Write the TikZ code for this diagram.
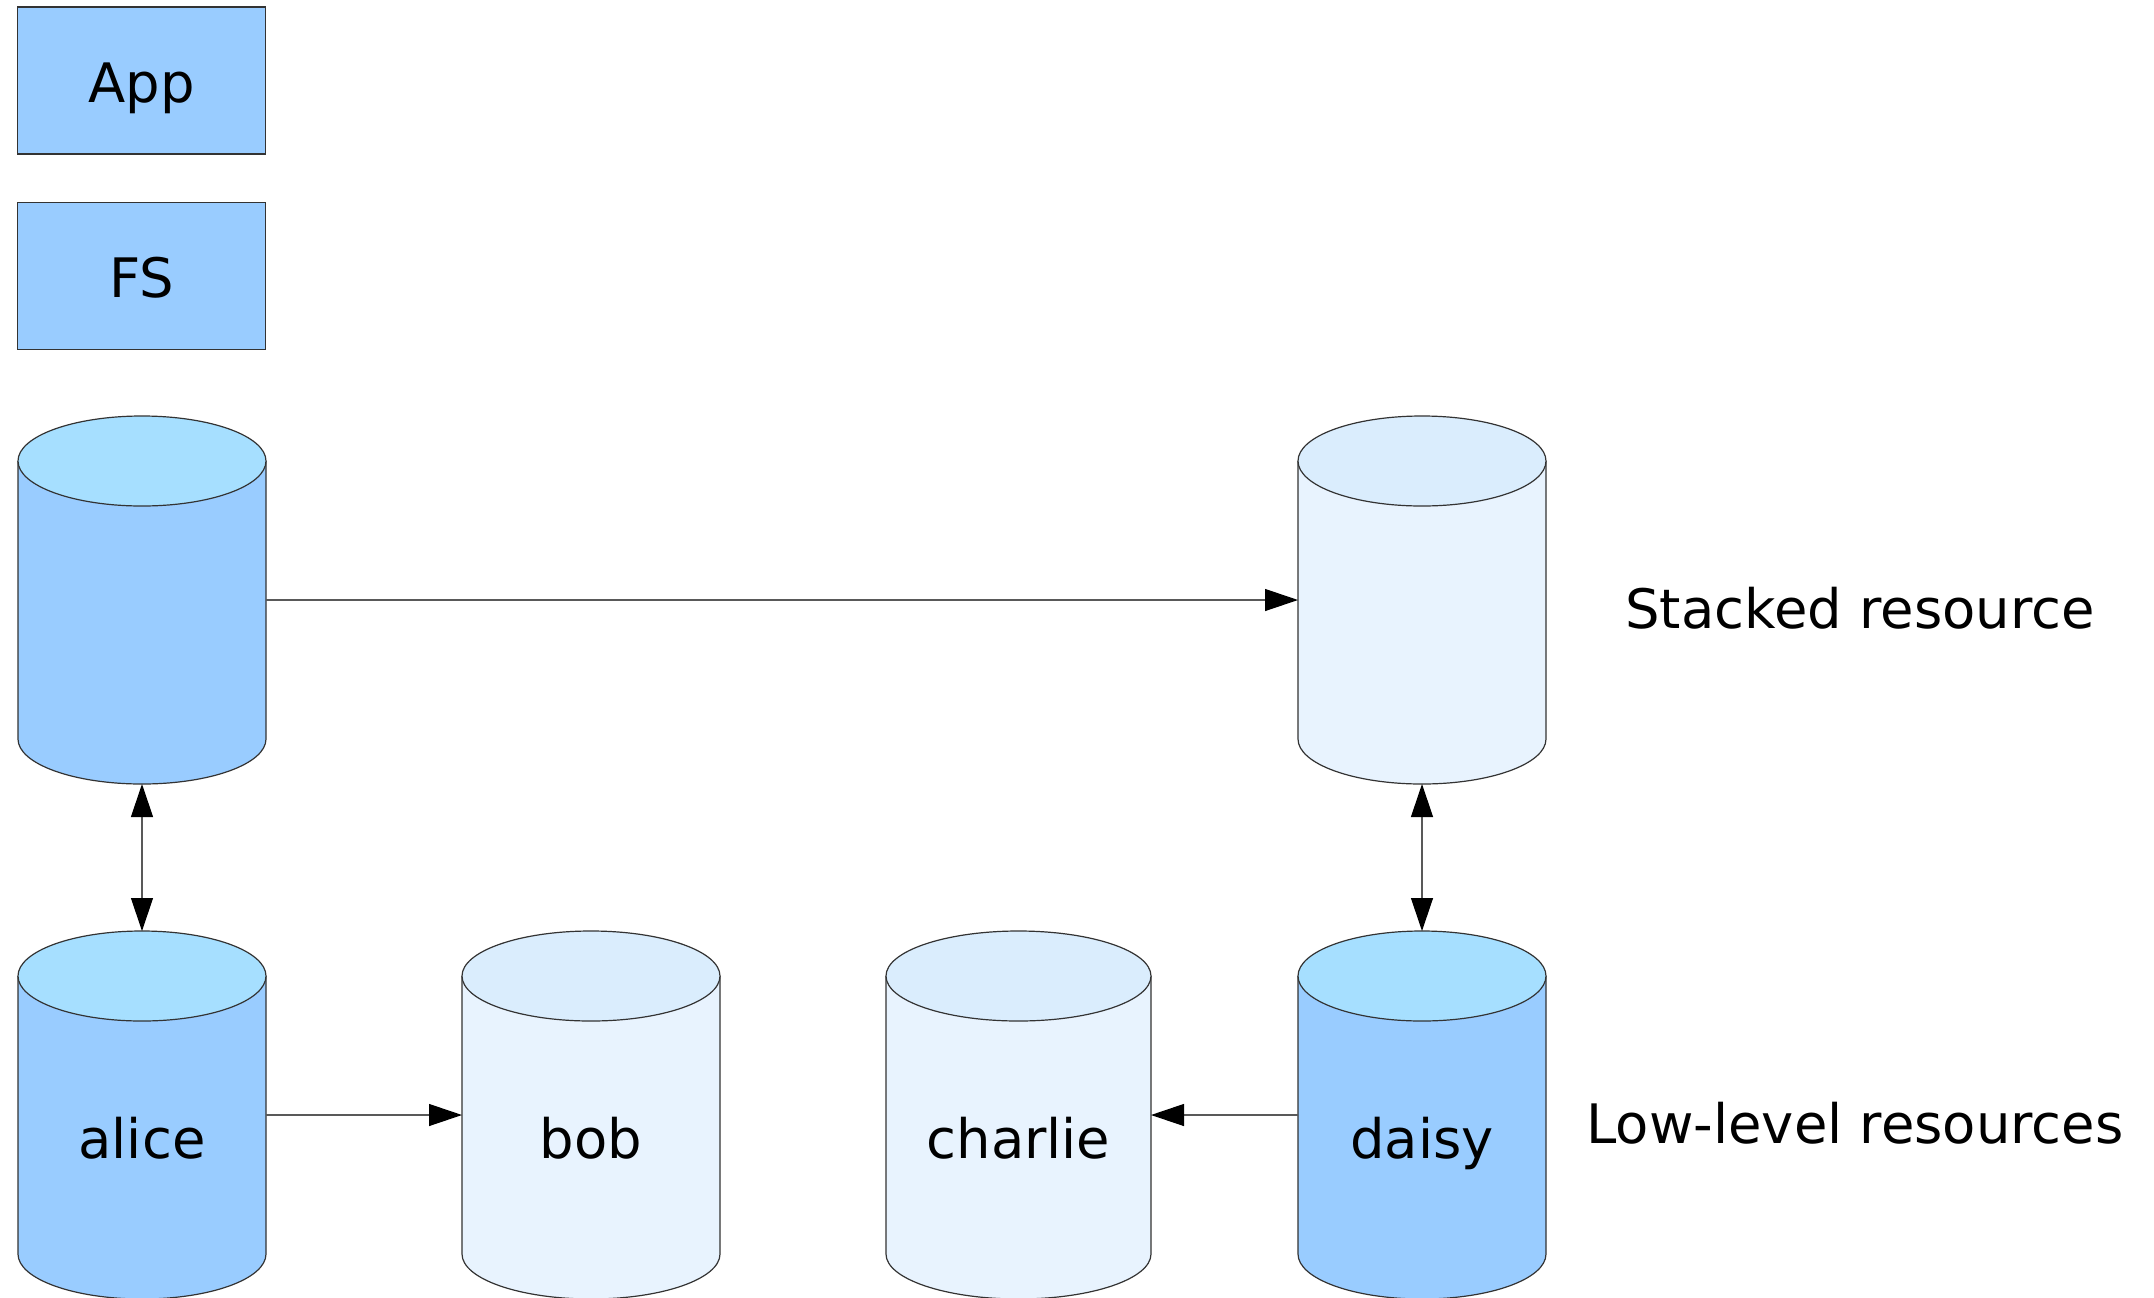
\documentclass[tikz,border=0pt]{standalone}
\usepackage{fontspec}
\setmainfont{DejaVu Sans}
\usetikzlibrary{arrows.meta}
\definecolor{darkbody}{HTML}{99CCFF}
\definecolor{darktop}{HTML}{A6DFFF}
\definecolor{lightbody}{HTML}{E8F3FE}
\definecolor{lighttop}{HTML}{DAEDFD}
\definecolor{edge}{HTML}{333333}
\tikzset{
  boxnode/.style={draw=edge, line width=0.6pt, fill=darkbody, minimum width=124pt, minimum height=73.5pt, inner sep=0pt},
  cylnode/.style={inner sep=0pt, outer sep=0pt},
  lbl/.style={font=\fontsize{27.2}{33}\selectfont, inner sep=0pt},
  conn/.style={draw=black!65, line width=0.6pt},
  tip/.tip={Triangle[length=16.5pt,width=11pt,black]}
}
% \dbcyl{name}{cx}{ytop}{w}{bodycolor}{topcolor}{label}
\newcommand{\dbcyl}[7]{%
  \pgfmathsetmacro\cxL{#2-#4/2}%
  \pgfmathsetmacro\cxR{#2+#4/2}%
  \pgfmathsetmacro\cyA{-(#3+45)}%
  \pgfmathsetmacro\cyB{-(#3+368-45)}%
  \pgfmathsetmacro\cyM{-(#3+184)}%
  \pgfmathsetmacro\crx{#4/4}%
  \pgfmathsetmacro\chh{368/2}%
  \pgfmathsetmacro\cww{#4/2}%
  \fill[#5] (\cxL,\cyA) -- (\cxL,\cyB) arc[start angle=180,end angle=360,x radius=\crx pt,y radius=22.5pt] -- (\cxR,\cyA) -- cycle;
  \draw[edge, line width=0.6pt] (\cxL,\cyA) -- (\cxL,\cyB) arc[start angle=180,end angle=360,x radius=\crx pt,y radius=22.5pt] -- (\cxR,\cyA);
  \draw[edge, line width=0.6pt, fill=#6] (#2,\cyA) ellipse[x radius=\crx pt,y radius=22.5pt];
  \node[cylnode, minimum width=\cww pt, minimum height=\chh pt] (#1) at (#2,\cyM) {};
  \node[lbl, anchor=base] (#1-label) at (#2,-1158) {#7};
}
\begin{document}
\begin{tikzpicture}[x=0.5pt,y=0.5pt]
\useasboundingbox (0,0) rectangle (2154,-1297);
\fill[white] (0,0) rectangle (2154,-1297);

\node[boxnode] (app) at (141.5,-80.5) {};
\node[lbl, anchor=base] (app-label) at (141.5,-102.5) {App};
\node[boxnode] (fs) at (141.5,-276) {};
\node[lbl, anchor=base] (fs-label) at (141.5,-297) {FS};

\dbcyl{stackL}{142}{416}{248}{darkbody}{darktop}{}
\dbcyl{stackR}{1422}{416}{248}{lightbody}{lighttop}{}
\dbcyl{alice}{142}{931}{248}{darkbody}{darktop}{alice}
\dbcyl{bob}{591}{931}{258}{lightbody}{lighttop}{bob}
\dbcyl{charlie}{1018.5}{931}{265}{lightbody}{lighttop}{charlie}
\dbcyl{daisy}{1422}{931}{248}{darkbody}{darktop}{daisy}

\node[lbl, anchor=base west] (stacked) at (1625,-628) {Stacked resource};
\node[lbl, anchor=base west] (lowlevel) at (1586,-1143) {Low-level resources};

\draw[conn, -tip] (stackL.east) -- (stackR.west);
\draw[conn, tip-tip] (stackL.south) -- (alice.north);
\draw[conn, tip-tip] (stackR.south) -- (daisy.north);
\draw[conn, -tip] (alice.east) -- (bob.west);
\draw[conn, -tip] (daisy.west) -- (charlie.east);
\end{tikzpicture}
\end{document}
